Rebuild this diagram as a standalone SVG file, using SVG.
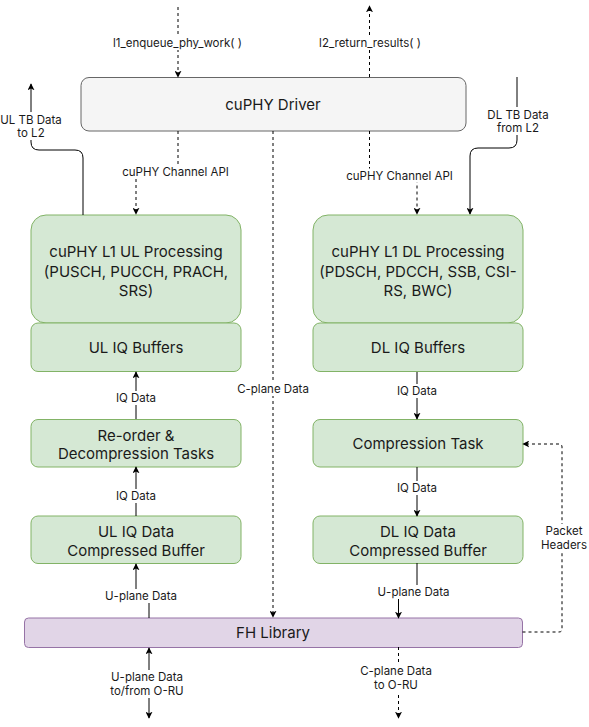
<svg xmlns="http://www.w3.org/2000/svg" width="589" height="727" viewBox="0 0 589 727">
<style>
.node text{font-family:Inter,"Liberation Sans",sans-serif;font-size:15px;fill:#1a1a1a;text-anchor:middle}
.green{fill:#d5e8d4;stroke:#82b366;stroke-width:1}
.grey{fill:#f5f5f5;stroke:#666666;stroke-width:1}
.purple{fill:#e1d5e7;stroke:#9673a6;stroke-width:1}
.edge{fill:none;stroke:#000;stroke-width:1}
.dash{stroke-dasharray:3 3}
.lbg{fill:#fff}
.lbl{font-family:Inter,"Liberation Sans",sans-serif;font-size:11.5px;fill:#1a1a1a;text-anchor:middle}
</style>
<defs>
<marker id="ah" viewBox="0 0 10 10" refX="9" refY="5" markerWidth="7" markerHeight="7" markerUnits="userSpaceOnUse" orient="auto-start-reverse">
<path d="M0,0 L10,5 L0,10 L2.5,5 Z" fill="#000"/>
</marker>
</defs>
<rect width="589" height="727" fill="#fff"/>

<g id="nodes">
<g id="driver" class="node"><rect class="grey" x="81" y="77.5" width="385" height="53.5" rx="8"/><text x="273" y="110">cuPHY Driver</text></g>
<g id="ul-proc" class="node"><rect class="green" x="31" y="215" width="210" height="108" rx="15"/><text x="136" y="257">cuPHY L1 UL Processing</text><text x="136" y="276.5">(PUSCH, PUCCH, PRACH,</text><text x="136" y="295.5">SRS)</text></g>
<g id="ul-iq" class="node"><rect class="green" x="31" y="323" width="210" height="48.5" rx="7"/><text x="136" y="352.5">UL IQ Buffers</text></g>
<g id="reorder" class="node"><rect class="green" x="31" y="419.5" width="210" height="47.5" rx="7"/><text x="136" y="440.5">Re-order &amp;</text><text x="136" y="458.5">Decompression Tasks</text></g>
<g id="ul-comp" class="node"><rect class="green" x="31" y="516" width="210" height="47.5" rx="7"/><text x="136" y="536.5">UL IQ Data</text><text x="136" y="555.5">Compressed Buffer</text></g>
<g id="dl-proc" class="node"><rect class="green" x="313" y="215" width="210" height="108" rx="15"/><text x="418" y="257">cuPHY L1 DL Processing</text><text x="418" y="276.5">(PDSCH, PDCCH, SSB, CSI-</text><text x="418" y="295.5">RS, BWC)</text></g>
<g id="dl-iq" class="node"><rect class="green" x="313" y="323" width="210" height="48.5" rx="7"/><text x="418" y="352.5">DL IQ Buffers</text></g>
<g id="compression" class="node"><rect class="green" x="313" y="419.5" width="210" height="47.5" rx="7"/><text x="418" y="448.5">Compression Task</text></g>
<g id="dl-comp" class="node"><rect class="green" x="313" y="516" width="210" height="47.5" rx="7"/><text x="418" y="536.5">DL IQ Data</text><text x="418" y="555.5">Compressed Buffer</text></g>
<g id="fh" class="node"><rect class="purple" x="24.5" y="618" width="498" height="29.5" rx="4"/><text x="273" y="638">FH Library</text></g>
</g>

<g id="connectors">
<path class="edge dash" d="M178,7 V77" marker-end="url(#ah)"/>
<path class="edge dash" d="M369.5,77 V6" marker-end="url(#ah)"/>
<path class="edge dash" d="M178,131 V172 H136 V214" marker-end="url(#ah)"/>
<path class="edge dash" d="M369.5,131 V175 H417 V214" marker-end="url(#ah)"/>
<path class="edge" d="M83,215 V158 Q83,150 75,150 H39 Q31,150 31,142 V84" marker-end="url(#ah)"/>
<path class="edge" d="M517,77 V140 Q517,148 509,148 H478 Q470,148 470,156 V214" marker-end="url(#ah)"/>
<path class="edge dash" d="M273,131 V617" marker-end="url(#ah)"/>
<path class="edge" d="M136,419 V372" marker-end="url(#ah)"/>
<path class="edge" d="M417,372 V419" marker-end="url(#ah)"/>
<path class="edge" d="M136,516 V467" marker-end="url(#ah)"/>
<path class="edge" d="M417,467 V516" marker-end="url(#ah)"/>
<path class="edge" d="M149,618 V596 H136 V564" marker-end="url(#ah)"/>
<path class="edge" d="M417,563 V592 H398.5 V618" marker-end="url(#ah)"/>
<path class="edge dash" d="M522.5,632 H559 Q562,632 562,629 V447 Q562,444 559,444 H523" marker-end="url(#ah)"/>
<path class="edge" d="M149,718 V648" marker-start="url(#ah)" marker-end="url(#ah)"/>
<path class="edge dash" d="M398.5,647 V718" marker-end="url(#ah)"/>

<rect class="lbg" x="108" y="36" width="139" height="14"/><text class="lbl" x="177.5" y="47">l1_enqueue_phy_work( )</text>
<rect class="lbg" x="314" y="36" width="113" height="14"/><text class="lbl" x="370" y="47">l2_return_results( )</text>
<rect class="lbg" x="120" y="165" width="111" height="14"/><text class="lbl" x="175.5" y="176">cuPHY Channel API</text>
<rect class="lbg" x="344" y="168.5" width="111" height="14"/><text class="lbl" x="399.5" y="179.5">cuPHY Channel API</text>
<rect class="lbg" x="0" y="112" width="64" height="28"/><text class="lbl" x="31" y="124">UL TB Data</text><text class="lbl" x="31" y="137">to L2</text>
<rect class="lbg" x="485" y="107" width="66" height="28"/><text class="lbl" x="518" y="119">DL TB Data</text><text class="lbl" x="518" y="132">from L2</text>
<rect class="lbg" x="235" y="382" width="76" height="14"/><text class="lbl" x="273" y="393">C-plane Data</text>
<rect class="lbg" x="112" y="391" width="48" height="14"/><text class="lbl" x="136" y="402">IQ Data</text>
<rect class="lbg" x="393" y="384" width="48" height="14"/><text class="lbl" x="417" y="395">IQ Data</text>
<rect class="lbg" x="112" y="489" width="48" height="14"/><text class="lbl" x="136" y="500">IQ Data</text>
<rect class="lbg" x="393" y="481" width="48" height="14"/><text class="lbl" x="417" y="492">IQ Data</text>
<rect class="lbg" x="103" y="589" width="76" height="14"/><text class="lbl" x="141" y="600">U-plane Data</text>
<rect class="lbg" x="375.5" y="585" width="76" height="14"/><text class="lbl" x="413.5" y="596">U-plane Data</text>
<rect class="lbg" x="539" y="524" width="50" height="28"/><text class="lbl" x="564" y="535">Packet</text><text class="lbl" x="564" y="549">Headers</text>
<rect class="lbg" x="104" y="670" width="86" height="28"/><text class="lbl" x="147" y="681">U-plane Data</text><text class="lbl" x="147" y="695">to/from O-RU</text>
<rect class="lbg" x="357" y="664" width="78" height="28"/><text class="lbl" x="396" y="675">C-plane Data</text><text class="lbl" x="396" y="689">to O-RU</text>
</g>
</svg>
